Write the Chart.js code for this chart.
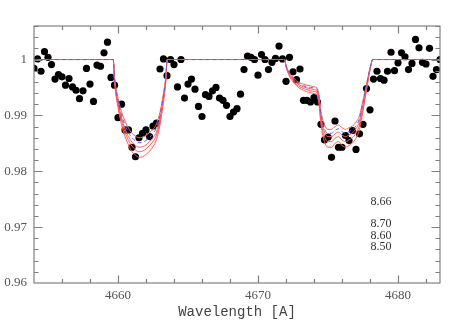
<!DOCTYPE html>
<html>
<head>
<meta charset="utf-8">
<script src="https://cdn.jsdelivr.net/npm/chart.js@4.4.0/dist/chart.umd.min.js"></script>
<style>
  html, body { margin: 0; padding: 0; background: #fff; }
</style>
</head>
<body>
<canvas id="spec" width="463" height="321"></canvas>
<script>
// observed spectrum, wavelength in A
const obsWave = [
  4654, 4654.25, 4654.5, 4654.75, 4655, 4655.25, 4655.5, 4655.75, 4656, 4656.25,
  4656.5, 4656.75, 4657, 4657.25, 4657.5, 4657.75, 4658, 4658.25, 4658.5, 4658.75,
  4659, 4659.25, 4659.5, 4659.75, 4660, 4660.25, 4660.5, 4660.75, 4661, 4661.25,
  4661.5, 4661.75, 4662, 4662.25, 4662.5, 4662.75, 4663, 4663.25, 4663.5, 4663.75,
  4664, 4664.25, 4664.5, 4664.75, 4665, 4665.25, 4665.5, 4665.75, 4666, 4666.25,
  4666.5, 4666.75, 4667, 4667.25, 4667.5, 4667.75, 4668, 4668.25, 4668.5, 4668.75,
  4669, 4669.25, 4669.5, 4669.75, 4670, 4670.25, 4670.5, 4670.75, 4671, 4671.25,
  4671.5, 4671.75, 4672, 4672.25, 4672.5, 4672.75, 4673, 4673.25, 4673.5, 4673.75,
  4674, 4674.25, 4674.5, 4674.75, 4675, 4675.25, 4675.5, 4675.75, 4676, 4676.25,
  4676.5, 4676.75, 4677, 4677.25, 4677.5, 4677.75, 4678, 4678.25, 4678.5, 4678.75,
  4679, 4679.25, 4679.5, 4679.75, 4680, 4680.25, 4680.5, 4680.75, 4681, 4681.25,
  4681.5, 4681.75, 4682, 4682.25, 4682.5, 4682.75, 4683
];
const obsFlux = [
  0.9984, 1.0001, 0.9979, 1.0014, 1.0004, 0.9991, 0.9965, 0.9973, 0.9969, 0.9954,
  0.9966, 0.9951, 0.9945, 0.9930, 0.9944, 0.9984, 0.9956, 0.9925, 0.9990, 0.9988,
  1.0012, 1.0031, 0.9968, 0.9954, 0.9896, 0.9920, 0.9874, 0.9874, 0.9843, 0.9826,
  0.9860, 0.9868, 0.9874, 0.9862, 0.9881, 0.9886, 0.9983, 1.0001, 0.9971, 1.0000,
  0.9991, 0.9951, 1.0000, 0.9931, 0.9956, 0.9965, 0.9947, 0.9916, 0.9898, 0.9937,
  0.9934, 0.9944, 0.9950, 0.9931, 0.9927, 0.9918, 0.9898, 0.9906, 0.9912, 0.9938,
  0.9982, 1.0006, 1.0004, 1.0000, 0.9972, 1.0009, 1.0000, 0.9982, 0.9995, 1.0002,
  1.0024, 1.0001, 0.9961, 1.0004, 0.9978, 0.9964, 0.9983, 0.9927, 0.9927, 0.9924,
  0.9932, 0.9924, 0.9884, 0.9856, 0.9861, 0.9825, 0.9890, 0.9843, 0.9843, 0.9864,
  0.9855, 0.9873, 0.9839, 0.9867, 0.9884, 0.9948, 0.9910, 0.9965, 0.9979, 0.9966,
  0.9963, 0.9979, 1.0013, 0.9980, 0.9994, 1.0012, 1.0005, 0.9982, 0.9993, 1.0036,
  1.0021, 0.9995, 0.9992, 1.0020, 0.9970, 0.9982, 1.0000
];

// synthetic spectra
const modelWave = [
  4654,
  4659.66, 4659.75, 4660, 4660.25, 4660.5, 4660.75, 4661, 4661.25, 4661.5,
  4661.75, 4662, 4662.25, 4662.5, 4662.75, 4663, 4663.25, 4663.4, 4663.52,
  4671.9, 4672, 4672.25, 4672.5, 4672.75, 4673, 4673.25, 4673.5, 4673.75, 4674,
  4674.2, 4674.35, 4674.5, 4674.75, 4675, 4675.25, 4675.5, 4675.75, 4676, 4676.25,
  4676.5, 4676.75, 4677, 4677.25, 4677.5, 4677.75, 4678, 4678.2,
  4683
];
const modelA = [
  1,
  1, 0.9969, 0.9931, 0.9907, 0.9890, 0.9877, 0.9868, 0.9863, 0.9860,
  0.9861, 0.9864, 0.9869, 0.9875, 0.9885, 0.9906, 0.9940, 0.9965, 1,
  1, 0.9990, 0.9976, 0.9968, 0.9962, 0.9958, 0.9956, 0.9954, 0.9953, 0.9951,
  0.9950, 0.9937, 0.9907, 0.9883, 0.9875, 0.9875, 0.9880, 0.9883, 0.9878, 0.9875,
  0.9878, 0.9881, 0.9888, 0.9900, 0.9927, 0.9956, 0.9985, 1,
  1
];
const modelB = [
  1,
  1, 0.9967, 0.9927, 0.9901, 0.9883, 0.9869, 0.9860, 0.9854, 0.9851,
  0.9852, 0.9855, 0.9861, 0.9867, 0.9878, 0.9900, 0.9936, 0.9963, 1,
  1, 0.9989, 0.9975, 0.9967, 0.9960, 0.9956, 0.9953, 0.9951, 0.9950, 0.9949,
  0.9947, 0.9933, 0.9901, 0.9876, 0.9868, 0.9868, 0.9873, 0.9876, 0.9871, 0.9868,
  0.9871, 0.9875, 0.9881, 0.9895, 0.9923, 0.9953, 0.9984, 1,
  1
];
const modelC = [
  1,
  1, 0.9965, 0.9923, 0.9896, 0.9876, 0.9862, 0.9852, 0.9846, 0.9843,
  0.9844, 0.9847, 0.9853, 0.9860, 0.9871, 0.9895, 0.9933, 0.9961, 1,
  1, 0.9989, 0.9974, 0.9965, 0.9958, 0.9954, 0.9951, 0.9949, 0.9948, 0.9946,
  0.9944, 0.9930, 0.9897, 0.9870, 0.9862, 0.9862, 0.9867, 0.9870, 0.9865, 0.9862,
  0.9865, 0.9869, 0.9876, 0.9890, 0.9919, 0.9951, 0.9983, 1,
  1
];
const modelD = [
  1,
  1, 0.9963, 0.9919, 0.9891, 0.9870, 0.9855, 0.9845, 0.9838, 0.9835,
  0.9836, 0.9840, 0.9846, 0.9853, 0.9865, 0.9889, 0.9929, 0.9959, 1,
  1, 0.9988, 0.9972, 0.9963, 0.9955, 0.9951, 0.9948, 0.9946, 0.9944, 0.9943,
  0.9941, 0.9926, 0.9890, 0.9862, 0.9853, 0.9853, 0.9859, 0.9862, 0.9856, 0.9853,
  0.9856, 0.9860, 0.9868, 0.9883, 0.9914, 0.9948, 0.9982, 1,
  1
];
const modelE = [
  1,
  1, 0.9961, 0.9914, 0.9884, 0.9862, 0.9847, 0.9835, 0.9829, 0.9825,
  0.9826, 0.9830, 0.9836, 0.9844, 0.9857, 0.9883, 0.9925, 0.9956, 1,
  1, 0.9987, 0.9970, 0.9960, 0.9953, 0.9948, 0.9945, 0.9942, 0.9941, 0.9939,
  0.9937, 0.9921, 0.9883, 0.9853, 0.9843, 0.9843, 0.9850, 0.9853, 0.9846, 0.9843,
  0.9846, 0.9851, 0.9859, 0.9875, 0.9908, 0.9945, 0.9981, 1,
  1
];

const xTicks = [4660, 4670, 4680];
const yTicks = [0.96, 0.97, 0.98, 0.99, 1];
const abundLabels = ['8.66', '8.70', '8.60', '8.50'];

function pts(xs, ys) {
  return xs.map(function (x, i) { return { x: x, y: ys[i] }; });
}

function model(label, ys, color, dash) {
  return {
    label: label,
    data: pts(modelWave, ys),
    showLine: true,
    borderColor: color,
    borderWidth: 1,
    borderDash: dash || [],
    pointRadius: 0,
    cubicInterpolationMode: 'monotone',
    fill: false
  };
}

// frame, inward ticks and abundance labels
const framePlugin = {
  id: 'frame',
  afterDraw(chart) {
    const ctx = chart.ctx;
    const a = chart.chartArea;
    const xs = chart.scales.x;
    const ys = chart.scales.y;
    ctx.save();
    ctx.strokeStyle = '#808080';
    ctx.lineWidth = 1.2;
    ctx.strokeRect(a.left, a.top, a.right - a.left, a.bottom - a.top);
    ctx.beginPath();
    for (let v = 4656; v < 4683; v += 2) {
      const px = Math.round(xs.getPixelForValue(v)) + 0.5;
      const len = v % 10 === 0 ? 7.5 : 4;
      ctx.moveTo(px, a.bottom); ctx.lineTo(px, a.bottom - len);
      ctx.moveTo(px, a.top); ctx.lineTo(px, a.top + len);
    }
    for (let k = 481; k <= 503; k++) {
      const py = Math.round(ys.getPixelForValue(k * 0.002)) + 0.5;
      const len = k % 5 === 0 ? 8.5 : 4.5;
      ctx.moveTo(a.left, py); ctx.lineTo(a.left + len, py);
      ctx.moveTo(a.right, py); ctx.lineTo(a.right - len, py);
    }
    ctx.stroke();

    ctx.fillStyle = '#333';
    ctx.font = '12px "Liberation Serif"';
    ctx.textAlign = 'left';
    ctx.textBaseline = 'middle';
    const ly = [0.9745, 0.9705, 0.9685, 0.9665];
    abundLabels.forEach(function (t, i) {
      ctx.fillText(t, xs.getPixelForValue(4678.03), ys.getPixelForValue(ly[i]));
    });
    ctx.restore();
  }
};

new Chart(document.getElementById('spec'), {
  type: 'scatter',
  data: {
    datasets: [
      model('8.66', modelB, '#5a5aff', [4, 3]),
      model('a', modelA, '#ff5a5a'),
      model('c', modelC, '#ff5a5a'),
      model('d', modelD, '#ff5a5a'),
      model('e', modelE, '#ff5a5a'),
      {
        label: 'observed',
        data: pts(obsWave, obsFlux),
        pointRadius: 3.6,
        pointBackgroundColor: '#000',
        pointBorderWidth: 0,
        showLine: false
      }
    ]
  },
  options: {
    responsive: false,
    devicePixelRatio: 1,
    animation: false,
    layout: { padding: { top: 26, right: 23, left: 0, bottom: 0 } },
    plugins: { legend: { display: false }, tooltip: { enabled: false } },
    scales: {
      x: {
        type: 'linear',
        position: 'bottom',
        min: 4654,
        max: 4683,
        afterBuildTicks: function (s) { s.ticks = xTicks.map(function (v) { return { value: v }; }); },
        afterFit: function (s) { s.height = 38; },
        grid: { display: false, drawTicks: false },
        border: { display: false },
        ticks: {
          padding: 5,
          maxRotation: 0,
          autoSkip: false,
          color: '#555',
          font: { family: 'Liberation Serif', size: 13 },
          callback: function (v) { return String(v); }
        },
        title: {
          display: true,
          text: 'Wavelength [A]',
          color: '#444',
          font: { family: 'Liberation Mono', size: 14 },
          padding: { top: 0, bottom: 0 }
        }
      },
      y: {
        type: 'linear',
        min: 0.96,
        max: 1.006,
        afterBuildTicks: function (s) { s.ticks = yTicks.map(function (v) { return { value: v }; }); },
        afterFit: function (s) { s.width = 34; },
        grid: { display: false, drawTicks: false },
        border: { display: false },
        ticks: {
          padding: 7,
          color: '#555',
          font: { family: 'Liberation Serif', size: 13 },
          callback: function (v) { return v === 1 ? '1' : v.toFixed(2); }
        }
      }
    }
  },
  plugins: [framePlugin]
});
</script>
</body>
</html>
